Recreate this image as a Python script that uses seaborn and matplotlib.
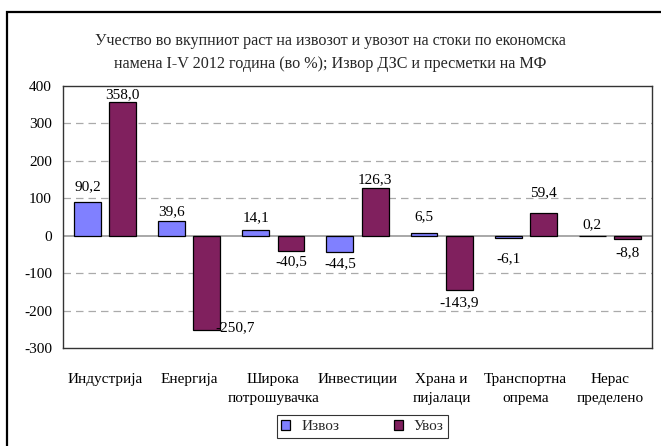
import matplotlib
matplotlib.use('Agg')
import matplotlib.pyplot as plt
import seaborn as sns
import pandas as pd
from matplotlib.patches import Rectangle

# ---- data ----
categories = ["Индустрија", "Енергија", "Широка\nпотрошувачка", "Инвестиции",
              "Храна и\nпијалаци", "Транспортна\nопрема", "Нерас\nпределено"]
izvoz = [90.2, 39.6, 14.1, -44.5, 6.5, -6.1, 0.2]
uvoz = [358.0, -250.7, -40.5, 126.3, -143.9, 59.4, -8.8]
series_names = ["Извоз", "Увоз"]
yticks = [-300, -200, -100, 0, 100, 200, 300, 400]
title = ("Учество во вкупниот раст на извозот и увозот на стоки по економска\n"
         "намена I-V 2012 година (во %); Извор ДЗС и пресметки на МФ")

# label offsets in pixels (dx, dy; dy positive = up) - styling only
label_offsets = {
    0: [(0, 15), (0, 9), (0, 13), (0, -11), (0, 17), (0, -21), (0, 11)],
    1: [(0, 7), (28, 2), (0, -11), (0, 9), (0, -13), (0, 21), (0, -14)],
}

df = pd.DataFrame({
    "cat": categories * 2,
    "val": izvoz + uvoz,
    "series": [series_names[0]] * len(categories) + [series_names[1]] * len(categories),
})

sns.set_theme(style="white")
plt.rcParams['font.family'] = ['Liberation Serif', 'DejaVu Serif']

W, H = 661, 446
FS = 11
fig = plt.figure(figsize=(W / 100, H / 100), dpi=100)
ax = fig.add_axes([63 / W, 1 - 348 / H, (652 - 63) / W, (348 - 86) / H])

colors = ["#8080FF", "#80205E"]
sns.barplot(data=df, x="cat", y="val", hue="series", palette=colors,
            saturation=1, width=0.84, gap=0.24, edgecolor="black",
            linewidth=0.9, ax=ax, legend=True, zorder=3)

ax.set_ylim(-300, 400)
ax.set_yticks(yticks)
ax.set_yticklabels([str(t) for t in yticks])
ax.set_xlabel("")
ax.set_ylabel("")
ax.tick_params(axis='both', length=0, labelsize=FS, colors='black')
ax.tick_params(axis='y', pad=8)
ax.tick_params(axis='x', pad=18)
for lab in ax.get_xticklabels():
    lab.set_linespacing(1.6)

for t in yticks:
    if t in (-300, 400):
        continue
    if t == 0:
        ax.axhline(0, color='#999999', lw=1.2, zorder=2)
    else:
        ax.axhline(t, color='#aaaaaa', lw=0.9, ls=(0, (6, 4)), zorder=1)

for sp in ax.spines.values():
    sp.set_color('#333333')
    sp.set_linewidth(1.0)
    sp.set_visible(True)

# data labels
for si, cont in enumerate(ax.containers):
    vals = izvoz if si == 0 else uvoz
    for bi, bar in enumerate(cont):
        v = vals[bi]
        x = bar.get_x() + bar.get_width() / 2
        dx, dy = label_offsets[si][bi]
        ax.annotate(f"{v:.1f}".replace('.', ','), (x, v),
                    xytext=(dx * 0.72, dy * 0.72), textcoords='offset points',
                    ha='center', va='center', fontsize=FS, color='black',
                    zorder=5)

# legend
handles, labels = ax.get_legend_handles_labels()
leg = ax.legend(handles, labels, loc='center', ncol=2,
                bbox_to_anchor=(362.5 / W, 1 - 426.5 / H),
                bbox_transform=fig.transFigure, frameon=True, fancybox=False,
                edgecolor='black', fontsize=FS, handlelength=0.6,
                handleheight=0.6, handletextpad=0.7, columnspacing=3.6,
                borderpad=0.3, borderaxespad=0)
leg.get_frame().set_linewidth(0.8)

# title
fig.text(0.5, 1 - 52.5 / H, title, ha='center', va='center', fontsize=11.6,
         linespacing=1.65)

# outer frame (only left and top visible)
fig.add_artist(Rectangle((7 / W, -0.2), 1.2, 1.2 - 11.5 / H, transform=fig.transFigure,
                         fill=False, edgecolor='black', linewidth=1.6))

fig.savefig("out.png", dpi=100)
